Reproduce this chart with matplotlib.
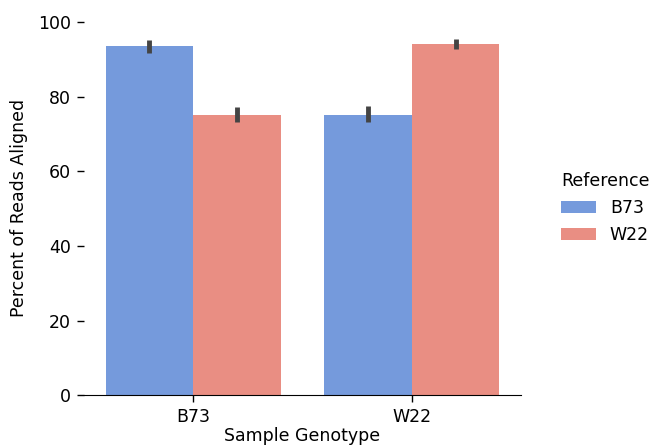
import matplotlib
matplotlib.use("Agg")
import matplotlib.pyplot as plt
import numpy as np

genotypes = ["B73", "W22"]
references = ["B73", "W22"]
# mean percent aligned, per reference, for each sample genotype
means = {"B73": [93.6, 75.2], "W22": [75.2, 94.1]}
err_low = {"B73": [91.8, 73.3], "W22": [73.3, 92.7]}
err_high = {"B73": [95.2, 77.4], "W22": [77.2, 95.5]}
colors = {"B73": "#759adc", "W22": "#e98e83"}

fig = plt.figure(figsize=(6.54, 4.47), dpi=100)
ax = fig.add_axes([0.128, 0.116, 0.669, 0.837])

x = np.arange(len(genotypes))
width = 0.4
for k, ref in enumerate(references):
    pos = x - width / 2 + k * width
    m = np.array(means[ref])
    yerr = [m - np.array(err_low[ref]), np.array(err_high[ref]) - m]
    ax.bar(pos, m, width, color=colors[ref], label=ref, linewidth=0)
    ax.errorbar(pos, m, yerr=yerr, fmt="none", ecolor="#444444",
                elinewidth=3.5, capsize=0)

ax.set_xlim(-0.5, 1.5)
ax.set_ylim(0, 100.3)
ax.set_xticks(x)
ax.set_xticklabels(genotypes)
ax.set_yticks([0, 20, 40, 60, 80, 100])
ax.tick_params(labelsize=12.5, length=5, width=1, pad=4)
ax.set_xlabel("Sample Genotype", fontsize=12.5, labelpad=1)
ax.set_ylabel("Percent of Reads Aligned", fontsize=12.5, labelpad=7)
for s in ["top", "right", "left"]:
    ax.spines[s].set_visible(False)

ax.legend(title="Reference", frameon=False, fontsize=12.5, title_fontsize=12.5,
          loc="center left", bbox_to_anchor=(1.055, 0.5))

fig.savefig("out.png", dpi=100)
